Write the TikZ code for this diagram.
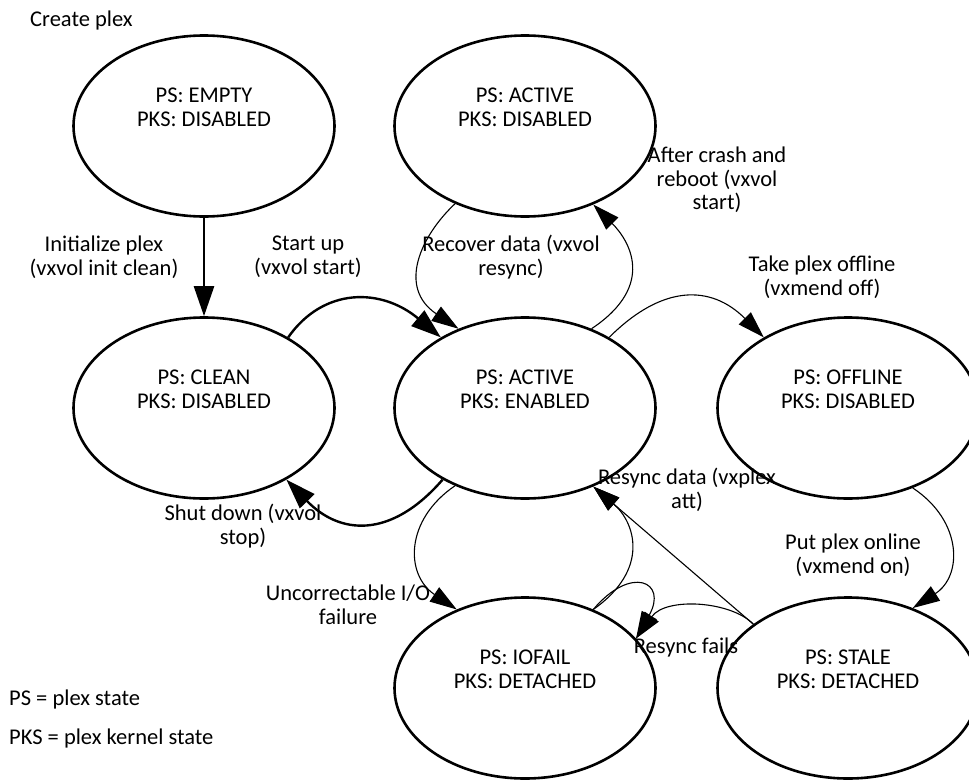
\documentclass[tikz,border=0pt]{standalone}
\usepackage{fontspec}
\setmainfont{Carlito}
\usetikzlibrary{shapes.geometric,arrows.meta}
\begin{document}
\begin{tikzpicture}[x=1pt,y=-1pt,
  statebox/.style={draw,ellipse,line width=2.6pt,minimum width=261pt,minimum height=181pt,inner sep=0pt},
  stext/.style={align=center,font=\fontsize{22.5}{24}\selectfont,inner sep=0pt},
  lbl/.style={align=center,font=\fontsize{22.5}{23.5}\selectfont,inner sep=0pt},
  thickarr/.style={line width=2.4pt,-{Triangle[length=30pt,width=20pt]}},
  thinarr/.style={line width=1.1pt,-{Triangle[length=27pt,width=17pt]}},
]
\path[use as bounding box] (0,0) rectangle (969,779);

% states
\node[statebox] (empty) at (204,126) {};
\node[statebox] (actd)  at (525,126) {};
\node[statebox] (clean) at (204,408) {};
\node[statebox] (enab)  at (525,408) {};
\node[statebox] (offl)  at (848,408) {};
\node[statebox] (iof)   at (525,688) {};
\node[statebox] (stale) at (848,688) {};

\node[stext] (emptyt) at (204,107) {PS: EMPTY\\PKS: DISABLED};
\node[stext] (actdt)  at (525,107) {PS: ACTIVE\\PKS: DISABLED};
\node[stext] (cleant) at (204,389) {PS: CLEAN\\PKS: DISABLED};
\node[stext] (enabt)  at (525,389) {PS: ACTIVE\\PKS: ENABLED};
\node[stext] (offlt)  at (848,389) {PS: OFFLINE\\PKS: DISABLED};
\node[stext] (ioft)   at (525,669) {PS: IOFAIL\\PKS: DETACHED};
\node[stext] (stalet) at (848,669) {PS: STALE\\PKS: DETACHED};

% transitions
\draw[thickarr] (empty.south) -- (clean.north);
\draw[thickarr] (clean.40) .. controls +(35,-50) and +(-60,-50) .. (enab.140);
\draw[thickarr] (enab.221) .. controls +(-52,60) and +(53,55) .. (clean.319);
\draw[thinarr] (actd.228) .. controls +(-35,33) and +(-61,-41) .. (enab.130);
\draw[thinarr] (enab.50) .. controls +(66,-44) and +(35,35) .. (actd.311);
\draw[thinarr] (enab.40) .. controls +(53,-53) and +(-53,-53) .. (offl.140);
\draw[thinarr] (offl.309) .. controls +(50,33) and +(50,-32) .. (stale.51);
\draw[thinarr] (enab.228) .. controls +(-50,34) and +(-52,-35) .. (iof.131);
\draw[thinarr] (stale.146) -- (enab.311);
\draw[thinarr] (iof.49) .. controls +(57,-40) and +(42,36) .. (enab.311);
\draw[thinarr] (iof.49) .. controls +(38,-45) and +(32,-57) .. (iof.24);
\draw[thinarr] (stale.146) .. controls +(-22,-23) and +(30,-42) .. (iof.24);

% labels
\node[lbl,anchor=base west] (lcreate) at (30,27) {Create plex};
\node[lbl] (linit) at (104,257) {Initialize plex\\(vxvol init clean)};
\node[lbl] (lstart) at (308,257) {Start up\\(vxvol start)};
\node[lbl] (lrecover) at (511,257) {Recover data (vxvol\\resync)};
\node[lbl] (lcrash) at (717,180) {After crash and\\reboot (vxvol\\start)};
\node[lbl] (loffline) at (822,277) {Take plex offline\\(vxmend off)};
\node[lbl] (lshut) at (243,526) {Shut down (vxvol\\stop)};
\node[lbl] (luncorr) at (348,605) {Uncorrectable I/O\\failure};
\node[lbl] (lresync) at (687,490) {Resync data (vxplex\\att)};
\node[lbl] (lonline) at (853,555) {Put plex online\\(vxmend on)};
\node[lbl] (lfails) at (686,647) {Resync fails};
\node[lbl,anchor=base west] (lps) at (9,705) {PS = plex state};
\node[lbl,anchor=base west] (lpks) at (9,744) {PKS = plex kernel state};
\end{tikzpicture}
\end{document}
